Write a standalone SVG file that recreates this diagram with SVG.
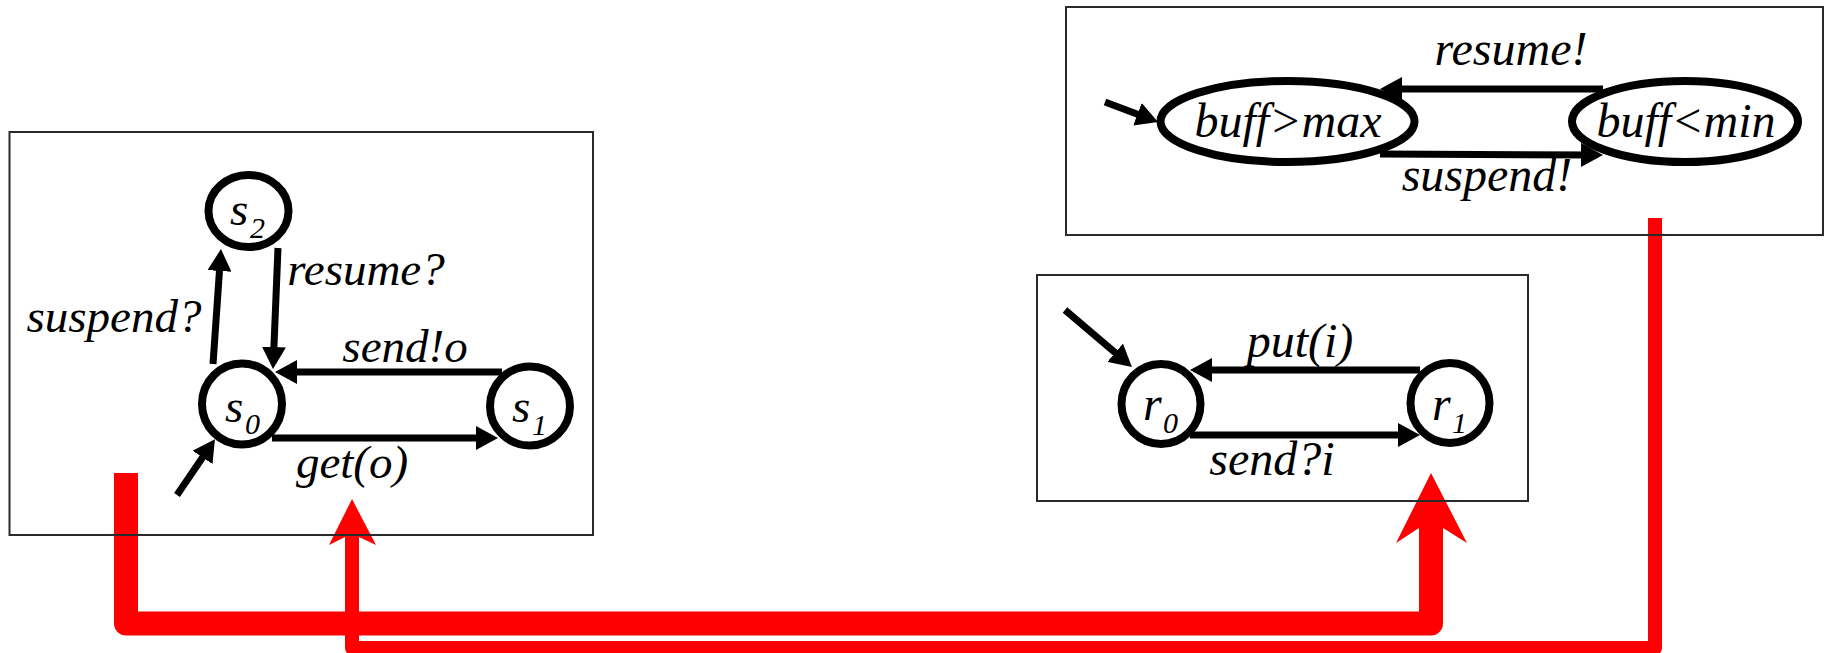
<svg xmlns="http://www.w3.org/2000/svg" width="1827" height="653" viewBox="0 0 1827 653">
<style>
.box{fill:none;stroke:#2a2a2a;stroke-width:2}
.st{fill:#fff;stroke:#000;stroke-width:8}
.ed{fill:none;stroke:#000;stroke-width:7;marker-end:url(#ah)}
.red{fill:none;stroke:#ff0000;stroke-linejoin:round}
</style>
<defs>
<marker id="ah" viewBox="0 0 22 24" refX="15" refY="12" markerWidth="22" markerHeight="24" markerUnits="userSpaceOnUse" orient="auto">
<path d="M0,0 L22,12 L0,24 z" fill="#000"/>
</marker>
</defs>
<rect width="1827" height="653" fill="#fff"/>

<g id="connectors">
<path class="red" d="M126,473 V623.5 H1431 V528" stroke-width="24"/>
<polygon points="1431,473 1467,543 1443,528 1419,528 1396,543" fill="#ff0000"/>
<path class="red" d="M1655,218 V648 H352 V537" stroke-width="14" stroke-linejoin="miter"/>
<polygon points="352,499 376,545 359,537 345,537 329,545" fill="#ff0000"/>
</g>

<g id="sender" font-family="Liberation Serif" font-style="italic" font-size="47" fill="#000">
<rect class="box" x="9.5" y="132" width="583.5" height="403"/>
<g id="s2"><ellipse class="st" cx="248.5" cy="211" rx="40" ry="36"/>
<text font-family="Liberation Serif" font-style="italic" font-size="47" x="230" y="225">s<tspan font-size="30" x="250" y="238">2</tspan></text></g>
<g id="s0"><ellipse class="st" cx="242" cy="404" rx="40" ry="40.5"/>
<text font-family="Liberation Serif" font-style="italic" font-size="47" x="225" y="422">s<tspan font-size="30" x="245" y="434">0</tspan></text></g>
<g id="s1"><ellipse class="st" cx="530" cy="406" rx="40" ry="39.5"/>
<text font-family="Liberation Serif" font-style="italic" font-size="47" x="512" y="422">s<tspan font-size="30" x="532" y="435">1</tspan></text></g>
<g id="sender-edges">
<line class="ed" x1="213" y1="364" x2="220.5" y2="256"/>
<line class="ed" x1="278" y1="248" x2="273.3" y2="362"/>
<line class="ed" x1="502" y1="372" x2="282" y2="372"/>
<line class="ed" x1="272" y1="438" x2="491" y2="438"/>
<line class="ed" x1="177" y1="495" x2="211" y2="445"/>
</g>
<text font-family="Liberation Serif" font-style="italic" font-size="47" text-anchor="middle" x="114" y="332">suspend?</text>
<text font-family="Liberation Serif" font-style="italic" font-size="47" text-anchor="middle" x="366" y="285">resume?</text>
<text font-family="Liberation Serif" font-style="italic" font-size="47" text-anchor="middle" x="405" y="362">send!o</text>
<text font-family="Liberation Serif" font-style="italic" font-size="47" text-anchor="middle" x="352" y="478">get(o)</text>
</g>

<g id="controller" font-family="Liberation Serif" font-style="italic" font-size="48" fill="#000">
<rect class="box" x="1066" y="7" width="757" height="228" stroke-width="2.5"/>
<g id="bmax"><ellipse class="st" cx="1287.5" cy="121.5" rx="127" ry="40.5"/>
<text font-family="Liberation Serif" font-style="italic" font-size="48" text-anchor="middle" x="1288" y="137">buff&gt;max</text></g>
<g id="bmin"><ellipse class="st" cx="1685" cy="121.5" rx="113" ry="40.5"/>
<text font-family="Liberation Serif" font-style="italic" font-size="48" text-anchor="middle" x="1686" y="137">buff&lt;min</text></g>
<g id="controller-edges">
<line class="ed" x1="1105" y1="102" x2="1151.5" y2="119.6"/>
<line class="ed" x1="1603" y1="89" x2="1387" y2="89"/>
<line class="ed" x1="1380" y1="154" x2="1596" y2="155"/>
</g>
<text font-family="Liberation Serif" font-style="italic" font-size="48" text-anchor="middle" x="1511" y="65">resume!</text>
<text font-family="Liberation Serif" font-style="italic" font-size="48" text-anchor="middle" x="1487" y="191">suspend!</text>
</g>

<g id="receiver" font-family="Liberation Serif" font-style="italic" font-size="48" fill="#000">
<rect class="box" x="1037" y="275" width="491" height="226"/>
<g id="r0"><ellipse class="st" cx="1161" cy="404" rx="39.5" ry="40"/>
<text font-family="Liberation Serif" font-style="italic" font-size="48" x="1143" y="420">r<tspan font-size="30" x="1163" y="433">0</tspan></text></g>
<g id="r1"><ellipse class="st" cx="1450" cy="403" rx="39.5" ry="40"/>
<text font-family="Liberation Serif" font-style="italic" font-size="48" x="1432" y="420">r<tspan font-size="30" x="1452" y="433">1</tspan></text></g>
<g id="receiver-edges">
<line class="ed" x1="1065" y1="310" x2="1126.6" y2="362.4"/>
<line class="ed" x1="1420" y1="370" x2="1197" y2="370"/>
<line class="ed" x1="1190" y1="435" x2="1413" y2="435"/>
</g>
<text font-family="Liberation Serif" font-style="italic" font-size="48" text-anchor="middle" x="1300" y="357">put(i)</text>
<text font-family="Liberation Serif" font-style="italic" font-size="48" text-anchor="middle" x="1272" y="475">send?i</text>
</g>
</svg>
